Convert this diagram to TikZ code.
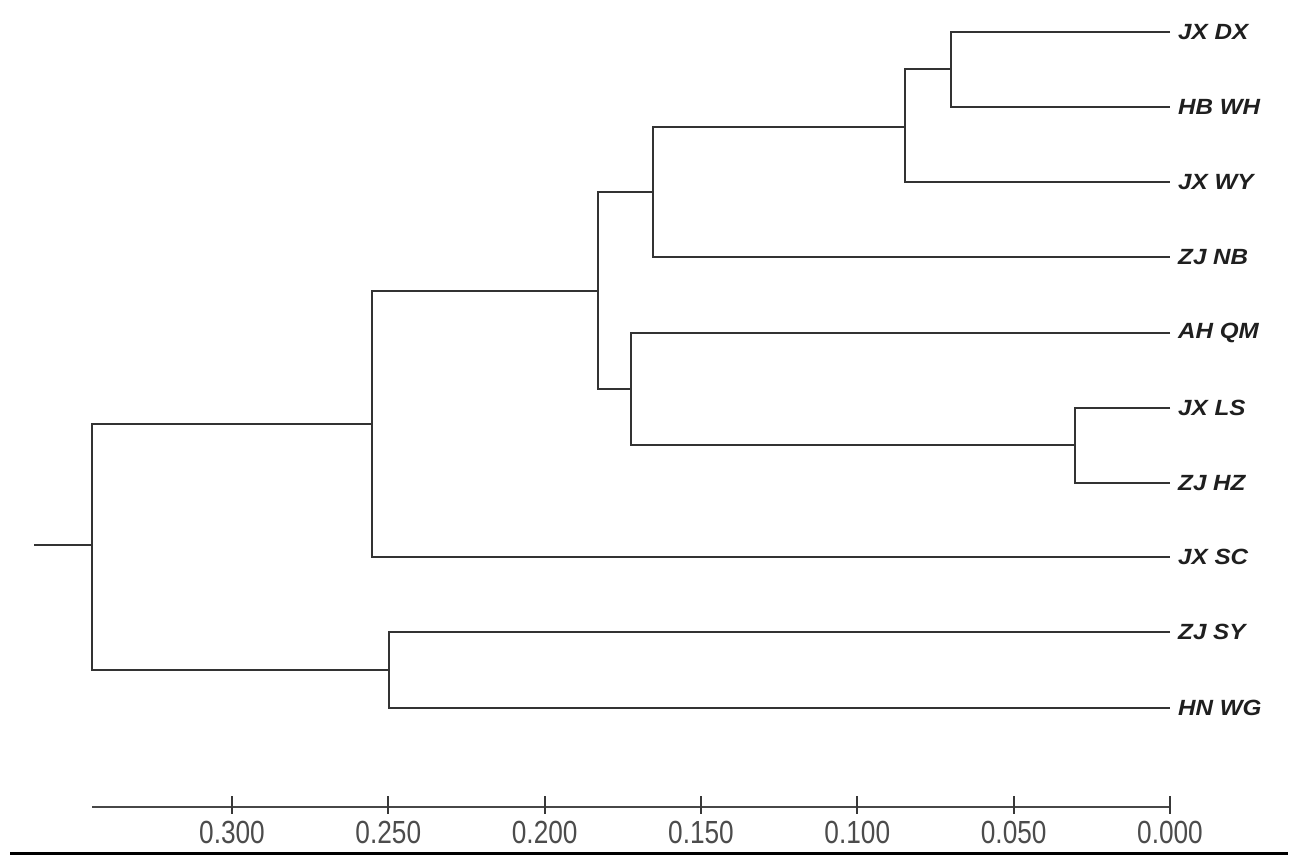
\documentclass[tikz,border=0pt]{standalone}
\usepackage{fontspec}
\setmainfont{Liberation Sans}
\begin{document}
\begin{tikzpicture}[x=1pt,y=-1pt,
  branch/.style={draw=black!80,line width=2.6pt},
  axisline/.style={draw=black!72,line width=2.8pt},
  tickmark/.style={draw=black!78,line width=2.2pt},
  leaflabel/.style={anchor=west,inner sep=0pt,text=black!88,xscale=1.1,font=\fontsize{22}{22}\selectfont\bfseries\itshape},
  ticklabel/.style={anchor=center,inner sep=0pt,text=black!70,xscale=0.82,font=\fontsize{32}{32}\selectfont}]
\useasboundingbox[fill=white] (0,0) rectangle (1302,868);
% leaf end points
\coordinate (l1) at (1170,32);
\coordinate (l2) at (1170,107);
\coordinate (l3) at (1170,182);
\coordinate (l4) at (1170,257);
\coordinate (l5) at (1170,333);
\coordinate (l6) at (1170,408);
\coordinate (l7) at (1170,483);
\coordinate (l8) at (1170,557);
\coordinate (l9) at (1170,632);
\coordinate (l10) at (1170,708);
% labels
\node[leaflabel] (t1) at (1178,32) {JX DX};
\node[leaflabel] (t2) at (1178,107) {HB WH};
\node[leaflabel] (t3) at (1178,182) {JX WY};
\node[leaflabel] (t4) at (1178,257) {ZJ NB};
\node[leaflabel] (t5) at (1178,333) {AH QM};
\node[leaflabel] (t6) at (1178,408) {JX LS};
\node[leaflabel] (t7) at (1178,483) {ZJ HZ};
\node[leaflabel] (t8) at (1178,557) {JX SC};
\node[leaflabel] (t9) at (1178,632) {ZJ SY};
\node[leaflabel] (t10) at (1178,708) {HN WG};
% internal nodes
\coordinate (n1) at (951,69);
\coordinate (n2) at (905,127);
\coordinate (n3) at (653,192);
\coordinate (n4) at (1075,445);
\coordinate (n5) at (631,389);
\coordinate (n6) at (598,291);
\coordinate (n7) at (372,424);
\coordinate (n8) at (389,670);
\coordinate (root) at (92,545);
\coordinate (stub) at (34,545);
% branches
\draw[branch] (l1) -| (n1) |- (l2);
\draw[branch] (n1) -| (n2) |- (l3);
\draw[branch] (n2) -| (n3) |- (l4);
\draw[branch] (l6) -| (n4) |- (l7);
\draw[branch] (l5) -| (n5) |- (n4);
\draw[branch] (n3) -| (n6) |- (n5);
\draw[branch] (n6) -| (n7) |- (l8);
\draw[branch] (l9) -| (n8) |- (l10);
\draw[branch] (n7) -| (root) |- (n8);
\draw[branch] (stub) -- (root);
% axis
\coordinate (a0) at (92,807);
\coordinate (a1) at (1170,807);
\draw[axisline] (a0) -- (a1);
\foreach \v/\x in {0.300/232,0.250/388.3,0.200/544.7,0.150/701,0.100/857.3,0.050/1013.7,0.000/1170}{
  \draw[tickmark] (\x,796) -- (\x,814);
  \node[ticklabel] at (\x,832) {\v};
}
% bottom rule
\coordinate (b0) at (10,853);
\coordinate (b1) at (1288,853);
\draw[line width=3pt,black] (b0) -- (b1);
\end{tikzpicture}
\end{document}
